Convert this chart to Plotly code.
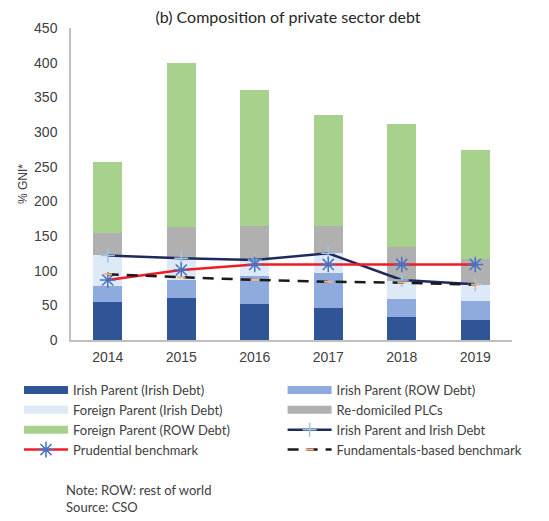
import plotly.graph_objects as go

years = ["2014", "2015", "2016", "2017", "2018", "2019"]

# stacked components, % GNI*
irish_parent_irish = [55.3, 61.0, 52.4, 46.4, 32.7, 29.0]
irish_parent_row = [23.1, 25.6, 40.1, 50.6, 26.7, 27.7]
foreign_parent_irish = [44.2, 31.9, 24.0, 28.0, 26.1, 23.3]
redomiciled_plcs = [32.4, 45.0, 48.5, 40.0, 48.0, 37.5]
foreign_parent_row = [102.0, 236.5, 195.5, 159.7, 178.2, 157.1]

# lines
irish_parent_and_debt = [121.7, 117.8, 115.4, 125.0, 86.6, 80.3]
prudential = [86.6, 101.0, 109.0, 109.0, 109.0, 109.0]
fundamentals = [94.7, 90.4, 86.6, 84.0, 82.7, 79.8]

# name, values, colour, which legend column
bar_series = [
    ("Irish Parent (Irish Debt)", irish_parent_irish, "#2F5597", "legend"),
    ("Irish Parent (ROW Debt)", irish_parent_row, "#8FAADC", "legend2"),
    ("Foreign Parent (Irish Debt)", foreign_parent_irish, "#DEE9F7", "legend"),
    ("Re-domiciled PLCs", redomiciled_plcs, "#B0B0B0", "legend2"),
    ("Foreign Parent (ROW Debt)", foreign_parent_row, "#A9D18E", "legend"),
]

txt = "#404040"
fig = go.Figure()

for name, vals, col, lg in bar_series:
    fig.add_trace(go.Bar(x=years, y=vals, name=name, marker_color=col,
                         marker_line_width=0, showlegend=False))

# legend swatches for the bars (wide rectangles like the original)
for name, vals, col, lg in bar_series:
    fig.add_trace(go.Scatter(x=[None], y=[None], mode="lines", name=name,
                             legend=lg, line=dict(color=col, width=8)))

fig.add_trace(go.Scatter(
    x=years, y=irish_parent_and_debt, name="Irish Parent and Irish Debt",
    legend="legend2", mode="lines+markers",
    line=dict(color="#1F2A5C", width=2.5),
    marker=dict(symbol="cross-thin-open", size=10, color="#9DC3E6",
                line=dict(color="#9DC3E6", width=1.5))))
fig.add_trace(go.Scatter(
    x=years, y=prudential, name="Prudential benchmark",
    legend="legend", mode="lines+markers",
    line=dict(color="#EE1C25", width=2.5),
    marker=dict(symbol="asterisk-open", size=13, color="#4472C4",
                line=dict(color="#4472C4", width=1.5))))
fig.add_trace(go.Scatter(
    x=years, y=fundamentals, name="Fundamentals-based benchmark",
    legend="legend2", mode="lines+markers",
    line=dict(color="#1A1A1A", width=2.5, dash="11px,8px"),
    marker=dict(symbol="line-ew-open", size=6, color="#F4B183",
                line=dict(color="#F4B183", width=2))))

leg_common = dict(orientation="v", xanchor="left", yanchor="top",
                  tracegroupgap=0, itemwidth=44, traceorder="normal",
                  bgcolor="rgba(0,0,0,0)",
                  font=dict(family="Lato, Open Sans", size=13, color=txt))

# page body adds an 8px offset, so the figure is 8px smaller than the window
fig.update_layout(
    width=541, height=513,
    margin=dict(l=62, r=37, t=20, b=181),
    paper_bgcolor="white", plot_bgcolor="white",
    barmode="stack", bargap=0.6,
    font=dict(family="Liberation Sans, Arial", size=14, color=txt),
    title=dict(text="(b) Composition of private sector debt",
               x=0.5176, xanchor="center", y=0.982, yanchor="middle",
               font=dict(family="Lato, Open Sans", size=16, color="#262626")),
    xaxis=dict(showline=True, linecolor="#BFBFBF", linewidth=1.5,
               ticks="", ticklabelstandoff=3, tickfont=dict(size=14, color=txt)),
    yaxis=dict(range=[0, 450], dtick=50, showgrid=False, zeroline=False,
               showline=True, linecolor="#BFBFBF", linewidth=1.5, ticks="",
               ticklabelstandoff=9, tickfont=dict(size=14, color=txt),
               title=dict(text="% GNI*", font=dict(size=12, color=txt), standoff=4)),
    legend=dict(x=-0.1154, y=-0.112, **leg_common),
    legend2=dict(x=0.481, y=-0.112, **leg_common),
    annotations=[dict(text="Note: ROW: rest of world<br>Source: CSO",
                      xref="paper", yref="paper", x=-0.0167, y=-0.508,
                      xanchor="left", yanchor="middle", align="left",
                      showarrow=False,
                      font=dict(family="Lato, Open Sans", size=13, color=txt))],
)

fig.write_html("out.html")
